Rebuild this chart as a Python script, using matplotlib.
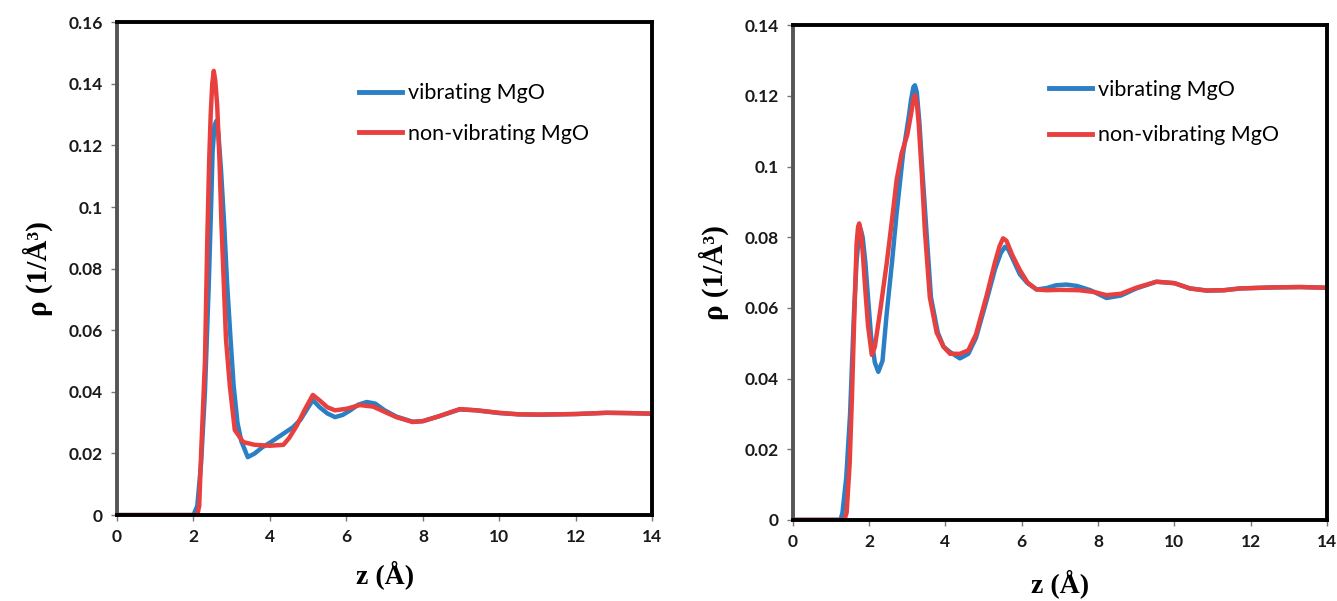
import matplotlib.pyplot as plt
from matplotlib.ticker import FuncFormatter

# left panel
zl_vib = [0, 2.0, 2.1, 2.2, 2.3, 2.4, 2.46, 2.5, 2.55, 2.6, 2.65, 2.72, 2.8, 2.88, 2.97,
          3.05, 3.15, 3.25, 3.42, 3.6, 3.8, 4.0, 4.3, 4.6, 4.8, 5.0, 5.12, 5.3, 5.5, 5.7,
          5.9, 6.1, 6.3, 6.53, 6.75, 7.0, 7.3, 7.73, 8.0, 8.4, 8.96, 9.4, 10.0, 10.5, 11.05,
          12.0, 12.8, 13.4, 14.0]
rl_vib = [0, 0, 0.003, 0.017, 0.04, 0.075, 0.1, 0.118, 0.1265, 0.128, 0.124, 0.112, 0.095,
          0.075, 0.057, 0.042, 0.03, 0.024, 0.0188, 0.02, 0.022, 0.0235, 0.026, 0.0285,
          0.031, 0.035, 0.0373, 0.035, 0.033, 0.0318, 0.0325, 0.034, 0.0358, 0.0367, 0.0362,
          0.034, 0.032, 0.0303, 0.0305, 0.032, 0.0343, 0.034, 0.0331, 0.0327, 0.0326, 0.0328,
          0.0332, 0.0331, 0.0329]

zl_non = [0, 2.1, 2.15, 2.2, 2.3, 2.36, 2.41, 2.45, 2.49, 2.53, 2.57, 2.62, 2.68, 2.73, 2.85,
          2.95, 3.08, 3.3, 3.6, 4.0, 4.35, 4.5, 4.7, 4.9, 5.12, 5.3, 5.5, 5.7, 6.0, 6.35, 6.7,
          7.0, 7.3, 7.73, 8.0, 8.4, 8.96, 9.4, 10.0, 10.5, 11.05, 12.0, 12.8, 13.4, 14.0]
rl_non = [0, 0, 0.003, 0.02, 0.05, 0.089, 0.115, 0.13, 0.14, 0.1442, 0.141, 0.133, 0.115,
          0.095, 0.057, 0.042, 0.0276, 0.0237, 0.0228, 0.0225, 0.0228, 0.025, 0.029, 0.034,
          0.039, 0.0372, 0.035, 0.034, 0.0345, 0.0357, 0.0352, 0.0335, 0.0318, 0.0302,
          0.0305, 0.032, 0.0344, 0.034, 0.0332, 0.0327, 0.0326, 0.0328, 0.0332, 0.0331,
          0.0329]

# right panel
zr_vib = [0, 1.25, 1.3, 1.4, 1.5, 1.6, 1.67, 1.72, 1.78, 1.83, 1.9, 1.97, 2.05, 2.15, 2.24,
          2.35, 2.46, 2.6, 2.72, 2.89, 3.05, 3.1, 3.16, 3.2, 3.25, 3.32, 3.4, 3.5, 3.62, 3.8,
          3.95, 4.12, 4.38, 4.6, 4.8, 5.08, 5.3, 5.45, 5.56, 5.65, 5.8, 5.95, 6.15, 6.39,
          6.65, 6.9, 7.17, 7.45, 7.8, 8.22, 8.6, 9.0, 9.53, 10.0, 10.41, 10.85, 11.3, 11.72,
          12.6, 13.3, 14.0]
rr_vib = [0, 0, 0.002, 0.012, 0.03, 0.058, 0.073, 0.079, 0.0822, 0.08, 0.073, 0.063,
          0.052, 0.0445, 0.0419, 0.045, 0.0584, 0.073, 0.0867, 0.1037, 0.115, 0.119, 0.1225,
          0.123, 0.121, 0.112, 0.098, 0.082, 0.063, 0.053, 0.049, 0.0475, 0.0457, 0.047,
          0.0515, 0.0622, 0.071, 0.0755, 0.0773, 0.0765, 0.073, 0.0695, 0.067, 0.0652,
          0.0656, 0.0664, 0.0666, 0.0662, 0.065, 0.0628, 0.0635, 0.0655, 0.0674, 0.067,
          0.0655, 0.0649, 0.065, 0.0655, 0.0658, 0.0659, 0.0657]

zr_non = [0, 1.35, 1.41, 1.49, 1.55, 1.6, 1.67, 1.71, 1.74, 1.78, 1.83, 1.9, 1.97, 2.07,
          2.15, 2.3, 2.46, 2.6, 2.72, 2.85, 3.0, 3.1, 3.16, 3.2, 3.25, 3.3, 3.38, 3.46, 3.59,
          3.77, 3.95, 4.12, 4.38, 4.6, 4.8, 5.08, 5.3, 5.42, 5.51, 5.6, 5.75, 5.95, 6.15,
          6.39, 6.65, 7.0, 7.5, 7.9, 8.22, 8.6, 9.0, 9.53, 10.0, 10.41, 10.85, 11.3, 11.72,
          12.6, 13.3, 14.0]
rr_non = [0, 0, 0.002, 0.016, 0.035, 0.0537, 0.078, 0.083, 0.0839, 0.082, 0.076, 0.065,
          0.055, 0.0467, 0.049, 0.06, 0.0726, 0.085, 0.0962, 0.1037, 0.109, 0.115, 0.119,
          0.1202, 0.118, 0.112, 0.098, 0.082, 0.063, 0.053, 0.049, 0.047, 0.047, 0.048,
          0.0525, 0.0635, 0.073, 0.0775, 0.0797, 0.079, 0.075, 0.0707, 0.0672, 0.0652, 0.065,
          0.0651, 0.065, 0.0645, 0.0636, 0.064, 0.0657, 0.0674, 0.067, 0.0655, 0.0649, 0.065,
          0.0655, 0.0658, 0.0659, 0.0657]

labels = ['vibrating MgO', 'non-vibrating MgO']
blue = '#2b7fc4'
red = '#e8403f'
tick_font = 'Lato'
label_font = 'Liberation Serif'

fig = plt.figure(figsize=(13.37, 6.01), dpi=100)
ax1 = fig.add_axes([0.0875, 0.143, 0.4005, 0.820])
ax2 = fig.add_axes([0.593, 0.135, 0.3995, 0.823])


def style(ax, ymax, ystep, leg_anchor, leg_space, xlab_pad):
    ax.set_xlim(0, 14)
    ax.set_ylim(0, ymax)
    ax.set_xticks(range(0, 15, 2))
    n = int(round(ymax / ystep))
    ax.set_yticks([i * ystep for i in range(n + 1)])
    ax.yaxis.set_major_formatter(FuncFormatter(lambda v, p: f'{v:g}'))
    for s in ax.spines.values():
        s.set_linewidth(2.8)
        s.set_color('black')
    ax.spines['left'].set_color('#555555')
    ax.tick_params(direction='out', length=4, width=1, color='#777777', pad=6,
                   labelsize=12.5, labelcolor='#1a1a1a')
    for lab in ax.get_xticklabels() + ax.get_yticklabels():
        lab.set_fontfamily(tick_font)
        lab.set_fontweight('bold')
    ax.set_xlabel('z (Å)', fontsize=20, fontweight='bold', family=label_font,
                  labelpad=xlab_pad)
    ax.set_ylabel('ρ (1/Å³)', fontsize=21, fontweight='bold', family=label_font,
                  labelpad=11)
    leg = ax.legend(labels, loc='upper left', bbox_to_anchor=leg_anchor, frameon=False,
                    prop={'family': tick_font, 'size': 15.5}, handlelength=2.0,
                    handletextpad=0.3, labelspacing=leg_space, borderpad=0)
    for line in leg.get_lines():
        line.set_linewidth(3.5)


ax1.plot(zl_vib, rl_vib, color=blue, lw=3.2)
ax1.plot(zl_non, rl_non, color=red, lw=3.2)
style(ax1, 0.16, 0.02, (0.431, 0.898), 0.95, 11)

ax2.plot(zr_vib, rr_vib, color=blue, lw=3.2)
ax2.plot(zr_non, rr_non, color=red, lw=3.2)
style(ax2, 0.14, 0.02, (0.459, 0.912), 1.2, 14)

fig.savefig('out.png', dpi=100)
